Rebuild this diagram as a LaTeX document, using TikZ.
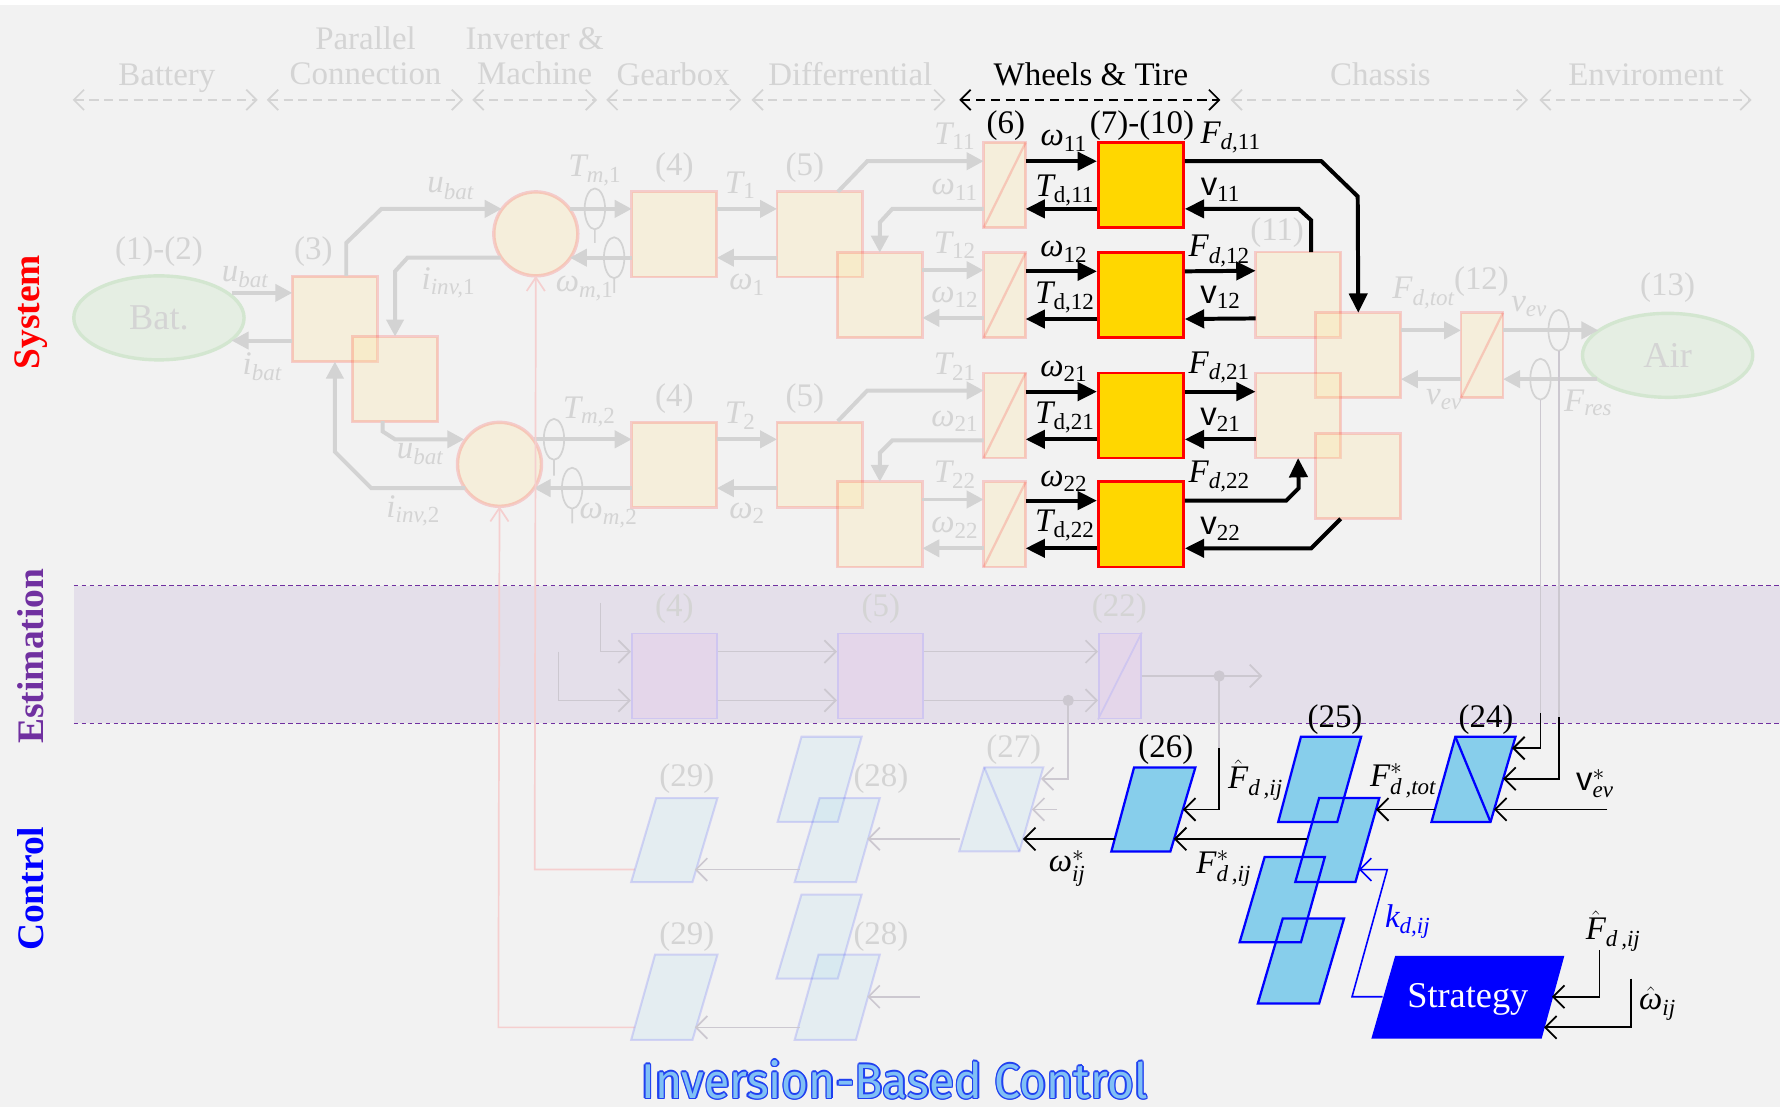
\documentclass[tikz,border=0pt]{standalone}
\usepackage{amsmath}
\usepackage{graphicx}
\usepackage{fontspec}
\setmainfont{Liberation Serif}
\setsansfont{Liberation Sans}
\newfontfamily\titlefont{Fira Sans}
\usetikzlibrary{arrows.meta,shapes.geometric}
\definecolor{bgc}{HTML}{F2F2F2}
\definecolor{ftext}{HTML}{D4D4D4}
\definecolor{gline}{HTML}{D3D3D3}
\definecolor{thinl}{HTML}{CCC8D0}
\definecolor{bandc}{HTML}{E4DFEA}
\definecolor{bandl}{HTML}{7030A0}
\definecolor{efill}{HTML}{E4D6EA}
\definecolor{edraw}{HTML}{CFC6F0}
\definecolor{pinkl}{HTML}{F5CFCF}
\definecolor{gold}{HTML}{FFD700}
\definecolor{fyel}{HTML}{FFE699}
\definecolor{sky}{HTML}{87CEEB}
\definecolor{batfill}{HTML}{E5EEE3}
\definecolor{batdraw}{HTML}{D3E6D0}
\definecolor{titfill}{HTML}{80C0F5}
\definecolor{titdraw}{HTML}{2040F0}
\newcommand{\xit}[1]{\text{\itshape #1}}
\newcommand{\xup}[1]{\text{\upshape #1}}
\newcommand{\xsv}{\text{\sffamily v}}
\tikzset{
  lab/.style={font=\fontsize{29}{30}\selectfont, inner sep=0pt},
  flab/.style={lab, text=ftext},
  blab/.style={lab, text=black},
  cat/.style={font=\fontsize{29}{30}\selectfont, text=ftext, inner sep=0pt, anchor=base},
  catarr/.style={draw=ftext, line width=1.5pt, dash pattern=on 8pt off 5pt, {Straight Barb[length=9pt,width=18pt,line width=1.5pt]}-{Straight Barb[length=9pt,width=18pt,line width=1.5pt]}},
  fbase/.style={draw=red, draw opacity=0.16, fill=fyel, fill opacity=0.25, line width=2.5pt, inner sep=0pt, outer sep=0pt},
  fsq/.style={fbase, rectangle, minimum width=75pt, minimum height=75pt},
  fsl/.style={fbase, rectangle, minimum width=37pt, minimum height=75pt},
  fcirc/.style={fbase, circle, minimum size=74pt, line width=3pt},
  fell/.style={ellipse, draw=batdraw, fill=batfill, line width=3pt, minimum width=150pt, minimum height=74pt, inner sep=0pt, text=ftext, font=\fontsize{32}{32}\selectfont},
  ysq/.style={rectangle, draw=red, fill=gold, line width=2.5pt, minimum width=75pt, minimum height=75pt, inner sep=0pt},
  esq/.style={rectangle, draw=edraw, fill=efill, line width=1.5pt, minimum width=75pt, minimum height=75pt, inner sep=0pt},
  esl/.style={esq, minimum width=37pt},
  garr/.style={draw=gline, line width=3.5pt, -{Triangle[length=15pt,width=15pt]}},
  barr/.style={draw=black, line width=3.5pt, -{Triangle[length=17pt,width=16pt]}},
  earr/.style={draw=thinl, line width=1.5pt, -{Straight Barb[length=10pt,width=20pt,line width=1.5pt]}},
  tarr/.style={draw=black, line width=1.6pt, -{Straight Barb[length=10pt,width=20pt,line width=1.6pt]}},
  karr/.style={draw=blue, line width=1.4pt, -{Straight Barb[length=10pt,width=20pt,line width=1.4pt]}},
  parr/.style={draw=pinkl, line width=1.5pt, -{Straight Barb[length=12pt,width=16pt,line width=1.5pt]}},
  sens/.style={draw=gline, line width=1.5pt},
  thinline/.style={draw=thinl, line width=1.5pt},
  cfade/.style={fill=sky, fill opacity=0.12, draw=blue, draw opacity=0.13, line width=1.8pt},
  cactf/.style={fill=sky},
  cactd/.style={draw=blue, line width=2pt},
  side/.style={rotate=90, inner sep=0pt, font=\bfseries\fontsize{33}{33}\selectfont},
  ttl/.style={inner sep=0pt, font=\titlefont\fontsize{43}{43}\selectfont},
}
\begin{document}
\begin{tikzpicture}[x=1pt,y=-1pt]
\useasboundingbox (0,0) rectangle (1568,975);
\fill[bgc] (0,0) rectangle (1568,975);
\fill[white] (0,0) rectangle (1568,4);
% estimation band
\fill[bandc] (65,516) rectangle (1568,637);
\draw[bandl, line width=1pt, dash pattern=on 4pt off 3pt] (65,516) -- (1568,516) (65,637) -- (1568,637);
% side labels
\node[side, text=red] (sys) at (27,275) {System};
\node[side, text=bandl] (est) at (27,578) {Estimation};
\node[side, text=blue] (ctl) at (27,783) {Control};
% categories
\node[cat] (cat1) at (147,75) {Battery};
\node[cat] (cat2a) at (322,44) {Parallel};
\node[cat] (cat2b) at (322,74) {Connection};
\node[cat] (cat3a) at (471,44) {Inverter \&};
\node[cat] (cat3b) at (471,74) {Machine};
\node[cat] (cat4) at (593,75) {Gearbox};
\node[cat] (cat5) at (749,75) {Differrential};
\node[cat, text=black] (cat6) at (961,75) {Wheels \& Tire};
\node[cat] (cat7) at (1216,75) {Chassis};
\node[cat] (cat8) at (1450,75) {Enviroment};
\draw[catarr] (64,88) -- (227,88);
\draw[catarr] (235,88) -- (408,88);
\draw[catarr] (416,88) -- (526,88);
\draw[catarr] (534,88) -- (653,88);
\draw[catarr] (662,88) -- (833,88);
\draw[catarr, draw=black] (845,88) -- (1075,88);
\draw[catarr] (1084,88) -- (1346,88);
\draw[catarr] (1356,88) -- (1543,88);
% ---------------- System (faded) ----------------
\node[fell] (bat) at (140,280) {Bat.};
\node[fell] (air) at (1469,313) {Air};
\node[fsq] (b3) at (295,281) {};
\node[fsq] (b3b) at (348,334) {};
\node[fcirc] (c1) at (472,206) {};
\node[fcirc] (c2) at (440,409) {};
\node[fsq] (g1) at (594,206.5) {};
\node[fsq] (d1) at (722,206.5) {};
\node[fsq] (d1b) at (775,260) {};
\node[fsq] (g2) at (594,409.5) {};
\node[fsq] (d2) at (722,409.5) {};
\node[fsq] (d2b) at (775,462) {};
\node[fsl] (s11) at (885,163) {};
\node[fsl] (s12) at (885,260) {};
\node[fsl] (s21) at (885,366) {};
\node[fsl] (s22) at (885,462) {};
\node[fsq] (ch1) at (1143.5,259.5) {};
\node[fsq] (ch2) at (1196.5,313) {};
\node[fsq] (ch3) at (1143.5,366) {};
\node[fsq] (ch4) at (1196.5,419.5) {};
\node[fsl] (s12e) at (1305.5,313) {};
\foreach \n in {s11,s12,s21,s22,s12e}{
  \draw[draw=red, draw opacity=0.16, line width=2pt] (\n.south west) -- (\n.north east);
}
% faded arrows
\draw[garr] (204,258) -- (b3.west |- 0,258);
\draw[garr] (b3.west |- 0,300) -- (204,300);
\draw[garr] (305,243) -- (305,214) -- (336,184) -- (442,184);
\draw[garr] (441,227) -- (359,227) -- (348,239) -- (b3b.north);
\draw[garr] (337,371) -- (337,380) -- (348,387) -- (409,387);
\draw[garr] (410,430) -- (327,430) -- (295,398) -- (b3.south);
\draw[garr] (502,184) -- (g1.west |- 0,184);
\draw[garr] (g1.west |- 0,227) -- (502,227);
\draw[garr] (g1.east |- 0,184) -- (d1.west |- 0,184);
\draw[garr] (d1.west |- 0,227) -- (g1.east |- 0,227);
\draw[garr] (738,169) -- (764,142) -- (s11.west |- 0,142);
\draw[garr] (s11.west |- 0,184) -- (786,184) -- (775,196) -- (d1b.north);
\draw[garr] (d1b.east |- 0,238) -- (s12.west |- 0,238);
\draw[garr] (s12.west |- 0,280) -- (d1b.east |- 0,280);
\draw[garr] (470,387) -- (g2.west |- 0,387);
\draw[garr] (g2.west |- 0,430) -- (470,430);
\draw[garr] (g2.east |- 0,387) -- (d2.west |- 0,387);
\draw[garr] (d2.west |- 0,430) -- (g2.east |- 0,430);
\draw[garr] (738,371) -- (764,344) -- (s21.west |- 0,344);
\draw[garr] (s21.west |- 0,388) -- (786,388) -- (775,399) -- (d2b.north);
\draw[garr] (d2b.east |- 0,440) -- (s22.west |- 0,440);
\draw[garr] (s22.west |- 0,483) -- (d2b.east |- 0,483);
\draw[garr] (ch2.east |- 0,291) -- (s12e.west |- 0,291);
\draw[garr] (s12e.west |- 0,334) -- (ch2.east |- 0,334);
\draw[garr] (s12e.east |- 0,291) -- (1408,291);
\draw[garr] (1407,334) -- (s12e.east |- 0,334);
% sensors
\draw[sens] (524,184) ellipse (9 and 18) (524,202) -- (524,214);
\draw[sens] (541,227) ellipse (9 and 18) (541,245) -- (541,258);
\draw[sens] (488,387) ellipse (9 and 18) (488,405) -- (488,419);
\draw[sens] (504,430) ellipse (9 and 18) (504,448) -- (504,461);
\draw[sens] (1373,291) ellipse (9 and 18);
\draw[sens] (1357,334) ellipse (9 and 18);
\draw[thinline] (1373,309) -- (1373,632);
\draw[thinline] (1357,352) -- (1357,628);
% faded labels
\node[flab] (l12) at (140,222) {(1)-(2)};
\node[flab] (l3) at (276,222) {(3)};
\node[flab] (lub1) at (216,244) {$\xit{u}_{\xit{bat}}$};
\node[flab] (lib) at (231,323) {$\xit{i}_{\xit{bat}}$};
\node[flab] (lub2) at (397,166) {$\xit{u}_{\xit{bat}}$};
\node[flab] (lii1) at (395,249) {$\xit{i}_{\xit{inv,}\xup{1}}$};
\node[flab] (lub3) at (370,400) {$\xit{u}_{\xit{bat}}$};
\node[flab] (lii2) at (364,450) {$\xit{i}_{\xit{inv,}\xup{2}}$};
\node[flab] (ltm1) at (524,150) {$\xit{T}_{\xit{m,}\xup{1}}$};
\node[flab] (lwm1) at (515,254) {$\xit{ω}_{\xit{m,}\xup{1}}$};
\node[flab] (l4a) at (594,148) {(4)};
\node[flab] (lt1) at (652,163) {$\xit{T}_{\xup{1}}$};
\node[flab] (lw1) at (658,251) {$\xit{ω}_{\xup{1}}$};
\node[flab] (l5a) at (709,148) {(5)};
\node[flab] (lt11) at (841,120) {$\xit{T}_{\xup{11}}$};
\node[flab] (lw11) at (841,167) {$\xit{ω}_{\xup{11}}$};
\node[flab] (lt12) at (841,216) {$\xit{T}_{\xup{12}}$};
\node[flab] (lw12) at (841,262) {$\xit{ω}_{\xup{12}}$};
\node[flab] (ltm2) at (519,363) {$\xit{T}_{\xit{m,}\xup{2}}$};
\node[flab] (lwm2) at (536,454) {$\xit{ω}_{\xit{m,}\xup{2}}$};
\node[flab] (l4b) at (594,351) {(4)};
\node[flab] (lt2) at (652,366) {$\xit{T}_{\xup{2}}$};
\node[flab] (lw2) at (658,452) {$\xit{ω}_{\xup{2}}$};
\node[flab] (l5b) at (709,351) {(5)};
\node[flab] (lt21) at (841,323) {$\xit{T}_{\xup{21}}$};
\node[flab] (lw21) at (841,371) {$\xit{ω}_{\xup{21}}$};
\node[flab] (lt22) at (841,418) {$\xit{T}_{\xup{22}}$};
\node[flab] (lw22) at (841,465) {$\xit{ω}_{\xup{22}}$};
\node[flab] (l11) at (1125,205) {(11)};
\node[flab] (lfdt) at (1254,258) {$\xit{F}_{\xit{d,tot}}$};
\node[flab] (l12b) at (1305,248) {(12)};
\node[flab] (lvev1) at (1347,270) {$\xit{v}_{\xit{ev}}$};
\node[flab] (lvev2) at (1272,352) {$\xit{v}_{\xit{ev}}$};
\node[flab] (lfres) at (1399,355) {$\xit{F}_{\xit{res}}$};
\node[flab] (l13) at (1469,253) {(13)};
% ---------------- Wheels & tire (active) ----------------
\node[ysq] (w11) at (1005,163) {};
\node[ysq] (w12) at (1005,260) {};
\node[ysq] (w21) at (1005,366) {};
\node[ysq] (w22) at (1005,462) {};
\foreach \r in {11,12,21,22}{
  \draw[barr] ([yshift=21pt]s\r.east) -- ([yshift=21pt]w\r.west);
  \draw[barr] ([yshift=-21pt]w\r.west) -- ([yshift=-21pt]s\r.east);
}
\draw[barr] ([yshift=21pt]w11.east) -- (1164,142) -- (1196,173) -- (ch2.north);
\draw[barr] (1155,222) -- (1155,194) -- (1144,184) -- ([yshift=-21pt]w11.east);
\draw[barr] ([yshift=21pt]w12.east) -- ([yshift=21pt]ch1.west);
\draw[barr] ([yshift=-21pt]ch1.west) -- ([yshift=-21pt]w12.east);
\draw[barr] ([yshift=21pt]w21.east) -- ([yshift=21pt]ch3.west);
\draw[barr] ([yshift=-21pt]ch3.west) -- ([yshift=-21pt]w21.east);
\draw[barr] ([yshift=21pt]w22.east) -- (1133,441) -- (1144,430) -- (ch3.south);
\draw[barr] ([xshift=22pt]ch4.south west) -- (1155,483) -- ([yshift=-21pt]w22.east);
\node[blab] (l6) at (886,111) {(6)};
\node[blab] (l710) at (1006,111) {(7)-(10)};
\node[blab] (bw11) at (937,124) {$\xit{ω}_{\xup{11}}$};
\node[blab] (bt11) at (938,168) {$\xit{T}_{\xup{d,11}}$};
\node[blab] (bw12) at (937,222) {$\xit{ω}_{\xup{12}}$};
\node[blab] (bt12) at (938,262) {$\xit{T}_{\xup{d,12}}$};
\node[blab] (bw21) at (937,327) {$\xit{ω}_{\xup{21}}$};
\node[blab] (bt21) at (938,368) {$\xit{T}_{\xup{d,21}}$};
\node[blab] (bw22) at (937,424) {$\xit{ω}_{\xup{22}}$};
\node[blab] (bt22) at (938,463) {$\xit{T}_{\xup{d,22}}$};
\node[blab] (bf11) at (1084,121) {$\xit{F}_{\xit{d,}\xup{11}}$};
\node[blab] (bv11) at (1075,167) {$\xsv_{\xup{11}}$};
\node[blab] (bf12) at (1074,221) {$\xit{F}_{\xit{d,}\xup{12}}$};
\node[blab] (bv12) at (1075,262) {$\xsv_{\xup{12}}$};
\node[blab] (bf21) at (1074,324) {$\xit{F}_{\xit{d,}\xup{21}}$};
\node[blab] (bv21) at (1075,370) {$\xsv_{\xup{21}}$};
\node[blab] (bf22) at (1074,420) {$\xit{F}_{\xit{d,}\xup{22}}$};
\node[blab] (bv22) at (1075,466) {$\xsv_{\xup{22}}$};
% ---------------- Estimation ----------------
\node[esq] (e4) at (594,595.5) {};
\node[esq] (e5) at (775.5,595.5) {};
\node[esl] (e22) at (986.5,595.5) {};
\draw[draw=edraw, line width=1.5pt] (e22.south west) -- (e22.north east);
\node[flab] (le4) at (594,536) {(4)};
\node[flab] (le5) at (776,536) {(5)};
\node[flab] (le22) at (986,536) {(22)};
\draw[earr] (529,531) -- (529,574) -- (e4.west |- 0,574);
\draw[earr] (492,574) -- (492,617) -- (e4.west |- 0,617);
\draw[earr] (e4.east |- 0,574) -- (e5.west |- 0,574);
\draw[earr] (e4.east |- 0,617) -- (e5.west |- 0,617);
\draw[earr] (e5.east |- 0,574) -- (e22.west |- 0,574);
\draw[earr] (e5.east |- 0,617) -- (e22.west |- 0,617);
\fill[thinl] (941,617) circle (5);
\draw[earr] (e22.east) -- (1112,595.5);
\fill[thinl] (1074,595.5) circle (5);
% pink lines to circles
\draw[parr] (559,766) -- (471,766) -- (c1.south);
\draw[parr] (559,905) -- (439,905) -- (c2.south);
% ---------------- Control faded ----------------
\draw[cfade] (867,676) -- (919,676) -- (898,750) -- (845,750) -- cycle;
\draw[draw=blue, draw opacity=0.13, line width=1.8pt] (867,676) -- (898,750);
\draw[cfade] (706,649) -- (759,649) -- (738,724) -- (685,724) -- cycle;
\draw[cfade] (722,703) -- (775,703) -- (754,777) -- (700,777) -- cycle;
\draw[cfade] (578,703) -- (632,703) -- (610,777) -- (556,777) -- cycle;
\draw[cfade] (706,788) -- (759,788) -- (738,862) -- (684,862) -- cycle;
\draw[cfade] (721,841) -- (775,841) -- (754,916) -- (700,916) -- cycle;
\draw[cfade] (577,841) -- (632,841) -- (610,916) -- (556,916) -- cycle;
\node[flab] (l27) at (893,660) {(27)};
\node[flab] (l28a) at (776,686) {(28)};
\node[flab] (l29a) at (605,686) {(29)};
\node[flab] (l28b) at (776,825) {(28)};
\node[flab] (l29b) at (605,825) {(29)};
\draw[earr] (941,617) -- (941,686) -- (917,686);
\coordinate (free1) at (931,713);
\draw[earr] (free1) -- (909,713);
\draw[earr] (846,739) -- (764,739);
\draw[earr] (705,766) -- (612,766);
\draw[earr] (705,905) -- (612,905);
\coordinate (free2) at (810,878);
\draw[earr] (free2) -- (764,878);
% ---------------- Control active ----------------
\fill[cactf] (999,676) -- (1053,676) -- (1031,750) -- (979,750) -- cycle;
\fill[cactf] (1146,649) -- (1199,649) -- (1178,724) -- (1126,724) -- cycle;
\fill[cactf] (1162,703) -- (1215,703) -- (1194,777) -- (1141,777) -- cycle;
\fill[cactf] (1114,755) -- (1167,755) -- (1146,830) -- (1092,830) -- cycle;
\fill[cactf] (1130,809) -- (1184,809) -- (1162,884) -- (1108,884) -- cycle;
\fill[cactf] (1282,649) -- (1335,649) -- (1313,724) -- (1261,724) -- cycle;
\draw[cactd] (999,676) -- (1053,676) -- (1031,750) -- (979,750) -- cycle;
\draw[cactd] (1146,649) -- (1199,649) -- (1178,724) -- (1126,724) -- cycle;
\draw[cactd] (1162,703) -- (1215,703) -- (1194,777) -- (1141,777) -- cycle;
\draw[cactd] (1114,755) -- (1167,755) -- (1146,830) -- (1092,830) -- cycle;
\draw[cactd] (1130,809) -- (1184,809) -- (1162,884) -- (1108,884) -- cycle;
\draw[cactd] (1282,649) -- (1335,649) -- (1313,724) -- (1261,724) -- cycle;
\draw[cactd] (1282,649) -- (1313,724);
\fill[blue] (1229,842) -- (1378,842) -- (1358,915) -- (1208,915) -- cycle;
\node[text=white, inner sep=0pt, font=\fontsize{32}{32}\selectfont] (strat) at (1293,880) {Strategy};
\node[blab] (l26) at (1027,660) {(26)};
\node[blab] (l25) at (1176,634) {(25)};
\node[blab] (l24) at (1309,634) {(24)};
% control arrows
\draw[thinline] (1074,595.5) -- (1074,659);
\draw[tarr] (1074,659) -- (1074,713) -- (1042,713);
\draw[tarr] (982,739) -- (901,739);
\draw[tarr] (1151,739) -- (1034,739);
\draw[tarr] (1264,713) -- (1212,713);
\coordinate (vin) at (1416,713);
\draw[tarr] (vin) -- (1316,713);
\draw[tarr] (1373,632) -- (1373,686) -- (1324,686);
\draw[tarr] (1357,628) -- (1357,659) -- (1332,659);
\draw[tarr] (1409,837) -- (1409,878) -- (1367,878);
\draw[tarr] (1437,862) -- (1437,905) -- (1360,905);
\draw[karr] (1218,878) -- (1191,878) -- (1222,766) -- (1197,766);
\node[blab] (lfh1) at (1106,687) {$\hat{\xit{F}}_{\xit{d\,,ij}}$};
\node[blab] (lfst) at (1236,688) {$\xit{F}^{*}_{\xit{d\,,tot}}$};
\node[blab] (lvst) at (1405,690) {$\xsv^{*}_{\xit{ev}}$};
\node[blab] (lfsij) at (1078,765) {$\xit{F}^{*}_{\xit{d\,,ij}}$};
\node[blab] (lwst) at (940,765) {$\xit{ω}^{*}_{\xit{ij}}$};
\node[lab, text=blue] (lk) at (1240,812) {$\xit{k}_{\xit{d,ij}}$};
\node[blab] (lfh2) at (1421,820) {$\hat{\xit{F}}_{\xit{d\,,ij}}$};
\node[blab] (lwh) at (1460,884) {$\hat{\xit{ω}}_{\xit{ij}}$};
% title
\foreach \dx/\dy [count=\i] in {1.3/0,-1.3/0,0/1.3,0/-1.3,0.9/0.9,-0.9/0.9,0.9/-0.9,-0.9/-0.9}{
  \node[ttl, text=titdraw] (tsh\i) at (788+\dx,951+\dy) {\scalebox{0.95}[1]{Inversion-Based Control}};
}
\node[ttl, text=titfill] (title) at (788,951) {\scalebox{0.95}[1]{Inversion-Based Control}};
\end{tikzpicture}
\end{document}
